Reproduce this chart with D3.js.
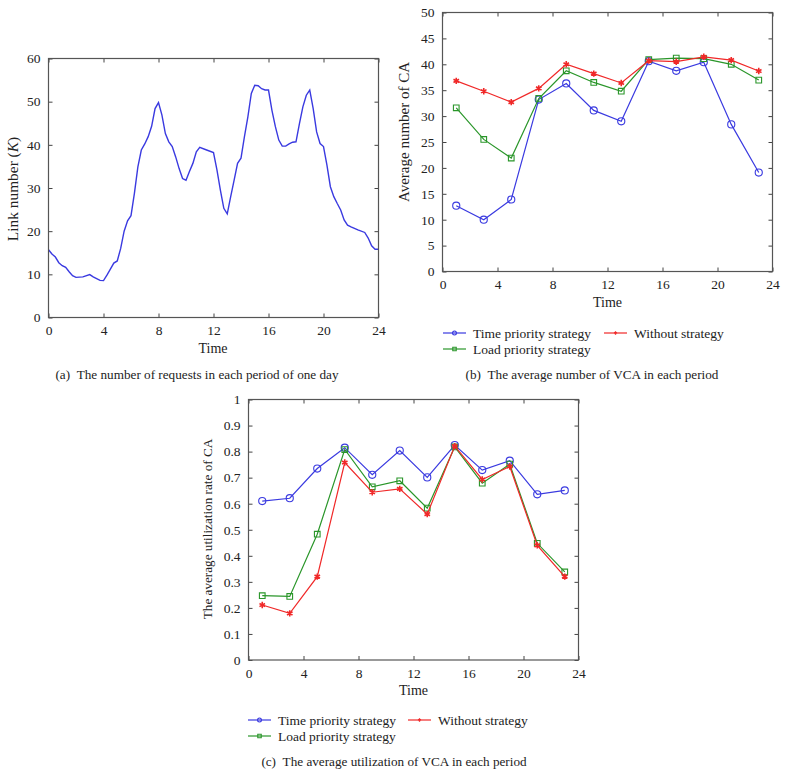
<!DOCTYPE html>
<html>
<head>
<meta charset="utf-8">
<script src="https://cdn.jsdelivr.net/npm/d3@7"></script>
<style>
  html, body { margin: 0; padding: 0; background: #fff; }
  svg { display: block; }
  text { font-family: "Liberation Serif", "DejaVu Serif", serif; fill: #222; }
</style>
</head>
<body>
<svg id="chart" width="787" height="776"></svg>
<script>
// ---------- DATA ----------
// (a) link number over one day
const linkTime = [0,0.25,0.5,0.75,1,1.25,1.5,1.75,2,2.5,3,3.25,3.5,3.75,4,4.25,4.5,4.75,5,5.25,5.5,5.75,6,6.25,6.5,6.75,7,7.25,7.5,7.75,8,8.25,8.5,8.75,9,9.25,9.5,9.75,10,10.25,10.5,10.75,11,11.5,12,12.25,12.5,12.75,13,13.25,13.5,13.75,14,14.25,14.5,14.75,15,15.25,15.5,15.75,16,16.25,16.5,16.75,17,17.25,17.5,17.75,18,18.25,18.5,18.75,19,19.25,19.5,19.75,20,20.25,20.5,20.75,21,21.25,21.5,21.75,22,22.5,23,23.25,23.5,23.75,24];
const linkNumber = [15.7,14.7,14.0,12.7,12.0,11.6,10.6,9.7,9.3,9.4,9.95,9.4,9.0,8.6,8.55,9.8,11.2,12.6,13.1,16.0,20.0,22.4,23.6,28.8,34.9,38.8,40.2,41.9,44.3,48.4,49.8,46.9,42.6,40.7,39.6,37.2,34.5,32.2,31.8,33.8,35.7,38.4,39.4,38.8,38.2,34.2,29.5,25.3,24.0,28.0,31.8,35.7,36.9,41.9,46.5,51.9,53.8,53.7,53.0,52.7,52.7,48.0,44.2,41.1,39.7,39.7,40.2,40.6,40.7,44.9,48.8,51.5,52.7,48.4,43.0,40.3,39.6,35.3,30.3,28.0,26.4,24.9,22.6,21.4,21.0,20.3,19.7,18.4,16.6,15.8,15.8];

// (b) and (c) periods
const periods = [1,3,5,7,9,11,13,15,17,19,21,23];
const seriesNames = ["Time priority strategy", "Load priority strategy", "Without strategy"];

// (b) average number of CA
const vcaTime    = [12.7,10.0,13.9,33.2,36.3,31.1,29.0,40.6,38.75,40.4,28.4,19.1];
const vcaLoad    = [31.6,25.5,21.9,33.4,38.75,36.5,34.8,40.9,41.2,41.1,40.0,36.95];
const vcaWithout = [36.8,34.8,32.7,35.35,40.0,38.2,36.4,40.7,40.5,41.45,40.8,38.7];

// (c) average utilization rate of CA
const utilTime    = [0.610,0.621,0.735,0.815,0.711,0.804,0.701,0.825,0.729,0.765,0.636,0.651];
const utilLoad    = [0.247,0.244,0.483,0.808,0.665,0.688,0.583,0.818,0.679,0.752,0.448,0.338];
const utilWithout = [0.211,0.179,0.320,0.758,0.644,0.657,0.560,0.821,0.693,0.743,0.440,0.320];

// ticks
const timeTicks = [0,4,8,12,16,20,24];
const linkTicks = [0,10,20,30,40,50,60];
const vcaTicks  = [0,5,10,15,20,25,30,35,40,45,50];
const utilTicks = [0,0.1,0.2,0.3,0.4,0.5,0.6,0.7,0.8,0.9,1];

// captions
const captionA = "(a)\u2002The number of requests in each period of one day";
const captionB = "(b)\u2002The average number of VCA in each period";
const captionC = "(c)\u2002The average utilization of VCA in each period";

// ---------- STYLE ----------
const colors = ["#3a3ae0", "#2a962a", "#f02828"];
const symbols = [d3.symbolCircle, d3.symbolSquare, d3.symbolAsterisk];
const symSizes = [40, 32, 28];
const legSizes = [12, 12, 8];

const svg = d3.select("#chart");

function frame(g, x, y, xTicks, yTicks, yFmt) {
  const [x0, x1] = x.range();
  const [y0, y1] = y.range(); // y0 bottom, y1 top
  const tl = 4;
  g.append("g").attr("transform", `translate(0,${y0})`)
    .call(d3.axisBottom(x).tickValues(xTicks).tickSizeInner(-tl).tickSizeOuter(0).tickPadding(8).tickFormat(d3.format("d")))
    .call(s => s.select(".domain").remove());
  g.append("g").attr("transform", `translate(0,${y1})`)
    .call(d3.axisTop(x).tickValues(xTicks).tickSizeInner(-tl).tickSizeOuter(0).tickFormat(""))
    .call(s => s.select(".domain").remove());
  g.append("g").attr("transform", `translate(${x0},0)`)
    .call(d3.axisLeft(y).tickValues(yTicks).tickSizeInner(-tl).tickSizeOuter(0).tickPadding(8).tickFormat(yFmt))
    .call(s => s.select(".domain").remove());
  g.append("g").attr("transform", `translate(${x1},0)`)
    .call(d3.axisRight(y).tickValues(yTicks).tickSizeInner(-tl).tickSizeOuter(0).tickFormat(""))
    .call(s => s.select(".domain").remove());
  g.selectAll(".tick line").attr("stroke", "#444").attr("stroke-width", 1);
  g.selectAll(".tick text").attr("font-family", "'Liberation Serif', serif").attr("font-size", 13.5).attr("fill", "#222");
  g.append("rect").attr("x", x0).attr("y", y1).attr("width", x1 - x0).attr("height", y0 - y1)
    .attr("fill", "none").attr("stroke", "#555").attr("stroke-width", 1.2);
}

function fmtUtil(d) { return d === 0 ? "0" : d === 1 ? "1" : d3.format(".1f")(d); }

// ---------- PANEL A ----------
{
  const g = svg.append("g");
  const x = d3.scaleLinear().domain([0, 24]).range([48.5, 378.5]);
  const y = d3.scaleLinear().domain([0, 60]).range([317.5, 58.5]);
  g.append("path").datum(linkTime.map((t, i) => [t, linkNumber[i]]))
    .attr("d", d3.line().x(d => x(d[0])).y(d => y(d[1])))
    .attr("fill", "none").attr("stroke", colors[0]).attr("stroke-width", 1.4);
  frame(g, x, y, timeTicks, linkTicks, d3.format("d"));
  g.append("text").attr("x", 213).attr("y", 353).attr("text-anchor", "middle").attr("font-size", 14).text("Time");
  const yl = g.append("text").attr("transform", "translate(18,189) rotate(-90)").attr("text-anchor", "middle").attr("font-size", 15.4);
  yl.append("tspan").text("Link number (");
  yl.append("tspan").attr("font-style", "italic").text("K");
  yl.append("tspan").text(")");
  g.append("text").attr("x", 197).attr("y", 379).attr("text-anchor", "middle").attr("font-size", 13.2).text(captionA);
}

function linePanel(cfg) {
  const g = svg.append("g");
  const x = d3.scaleLinear().domain([0, 24]).range(cfg.xr);
  const y = d3.scaleLinear().domain(cfg.yd).range(cfg.yr);
  cfg.series.forEach((vals, k) => {
    const pts = periods.map((p, i) => [p, vals[i]]);
    g.append("path").datum(pts)
      .attr("d", d3.line().x(d => x(d[0])).y(d => y(d[1])))
      .attr("fill", "none").attr("stroke", colors[k]).attr("stroke-width", 1.2);
    g.selectAll(null).data(pts).enter().append("path")
      .attr("transform", d => `translate(${x(d[0])},${y(d[1])})`)
      .attr("d", d3.symbol(symbols[k], symSizes[k]))
      .attr("fill", "none").attr("stroke", colors[k]).attr("stroke-width", k === 2 ? 1.6 : 1.1);
  });
  frame(g, x, y, timeTicks, cfg.ticks, cfg.fmt);
  const xm = (cfg.xr[0] + cfg.xr[1]) / 2;
  g.append("text").attr("x", xm).attr("y", cfg.yr[0] + 35).attr("text-anchor", "middle").attr("font-size", 14).text("Time");
  g.append("text").attr("transform", `translate(${cfg.ylx},${cfg.yly}) rotate(-90)`).attr("text-anchor", "middle").attr("font-size", cfg.ylfs).text(cfg.ylabel);
  const L = cfg.legend;
  const items = [
    { k: 0, x: L.x1, y: L.r1 },
    { k: 1, x: L.x1, y: L.r2 },
    { k: 2, x: L.x2, y: L.r1 }
  ];
  items.forEach(it => {
    g.append("line").attr("x1", it.x).attr("x2", it.x + 23).attr("y1", it.y).attr("y2", it.y)
      .attr("stroke", colors[it.k]).attr("stroke-width", 1.2);
    g.append("path").attr("transform", `translate(${it.x + 11.5},${it.y})`)
      .attr("d", d3.symbol(symbols[it.k], legSizes[it.k]))
      .attr("fill", "none").attr("stroke", colors[it.k]).attr("stroke-width", 1.1);
    g.append("text").attr("x", it.x + 30).attr("y", it.y + 4.5).attr("font-size", 13.5).text(seriesNames[it.k]);
  });
  g.append("text").attr("x", cfg.cap[0]).attr("y", cfg.cap[1]).attr("text-anchor", "middle").attr("font-size", 13.2).text(cfg.caption);
}

// ---------- PANEL B ----------
linePanel({
  xr: [442.5, 772.5], yd: [0, 50], yr: [271.5, 12.5],
  series: [vcaTime, vcaLoad, vcaWithout],
  ticks: vcaTicks, fmt: d3.format("d"),
  ylabel: "Average number of CA", ylx: 409, yly: 132, ylfs: 15,
  legend: { x1: 443, x2: 604, r1: 333, r2: 349 },
  caption: captionB, cap: [592, 379]
});

// ---------- PANEL C ----------
linePanel({
  xr: [248.5, 578.5], yd: [0, 1], yr: [660, 399.5],
  series: [utilTime, utilLoad, utilWithout],
  ticks: utilTicks, fmt: fmtUtil,
  ylabel: "The average utilization rate of CA", ylx: 212, yly: 529, ylfs: 13.2,
  legend: { x1: 248, x2: 408, r1: 720, r2: 736 },
  caption: captionC, cap: [394, 766]
});
</script>
</body>
</html>
